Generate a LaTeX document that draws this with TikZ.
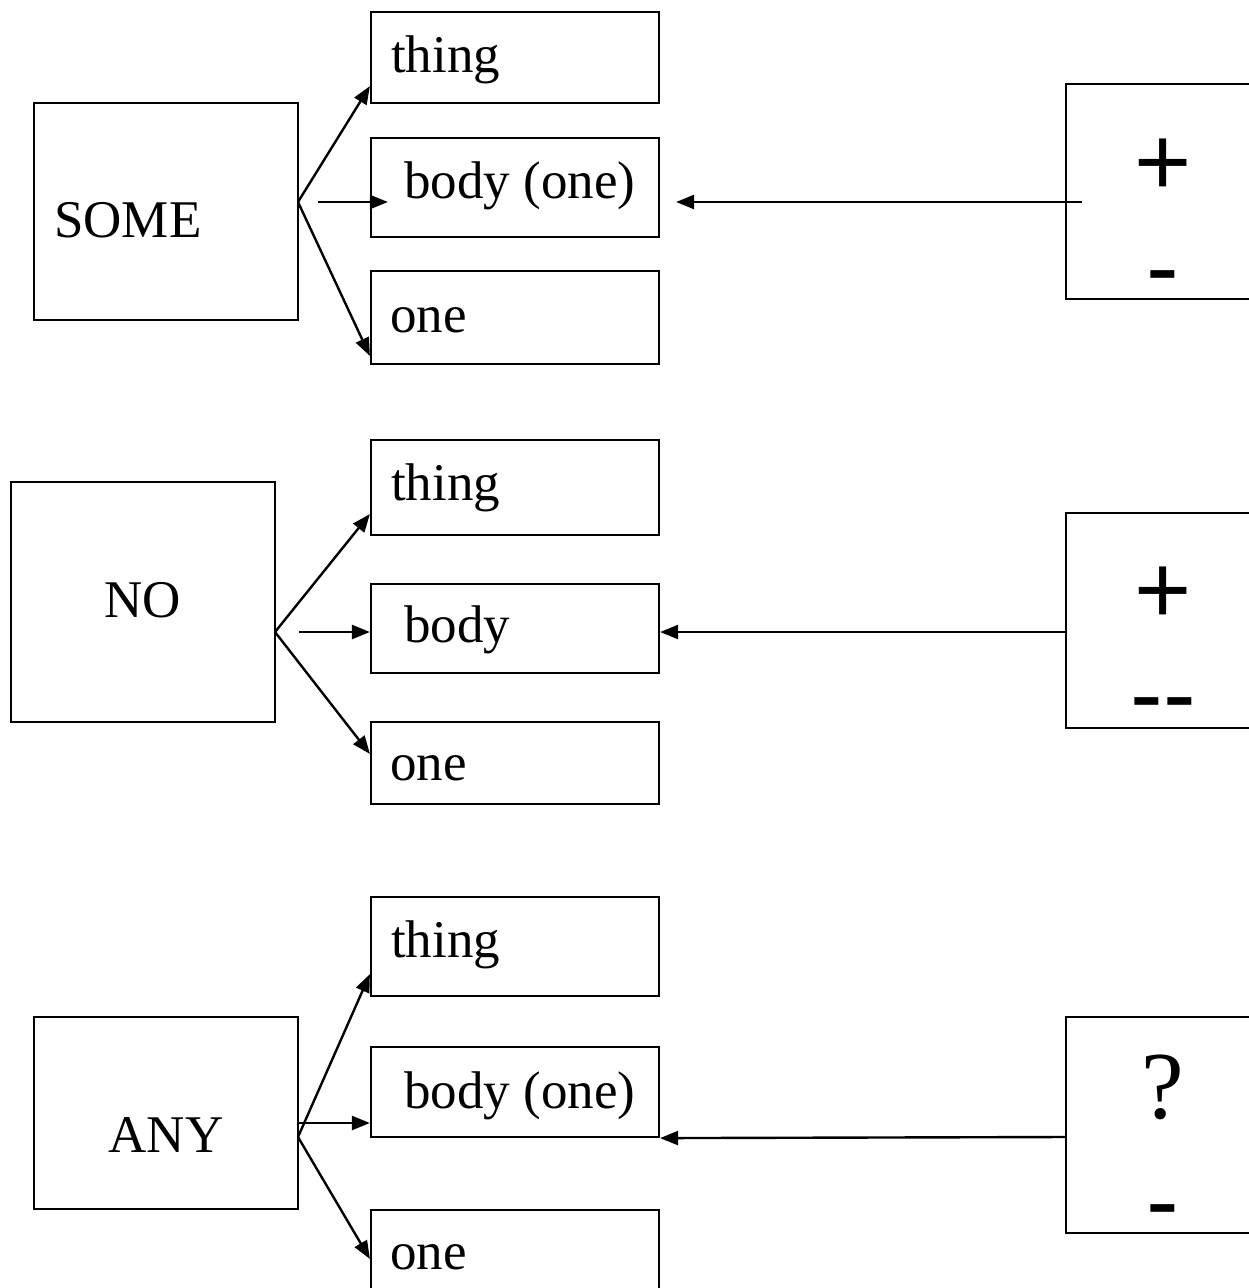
\documentclass[tikz,border=0pt]{standalone}
\usepackage{fontspec}
\setmainfont{Liberation Serif}
\newfontfamily\signfont{Liberation Sans}
\usetikzlibrary{arrows.meta}
\tikzset{frame/.style={draw=black, line width=2.2pt, inner sep=0pt},
    word/.style={font=\fontsize{53}{60}\selectfont, inner sep=0pt},
    sign/.style={font=\signfont\fontsize{98}{100}\selectfont, inner sep=0pt, anchor=base},
    arr/.style={line width=2.4pt, -{Triangle[length=18pt,width=14pt]}}}

\begin{document}
\begin{tikzpicture}[x=1pt, y=-1pt]
    \useasboundingbox (0,0) rectangle (1249,1288);
    % determiners
    \node[frame, minimum width=264, minimum height=217] (some) at (166,211.5) {};
    \node[frame, minimum width=264, minimum height=240] (no)   at (143,602)   {};
    \node[frame, minimum width=264, minimum height=192] (any)  at (166,1113)  {};
    \node[word, anchor=base west] (some-t) at (54,237)  {SOME};
    \node[word, anchor=base]      (no-t)   at (143,617) {NO};
    \node[word, anchor=base]      (any-t)  at (166,1152) {ANY};
    % endings
    \node[frame, minimum width=288, minimum height=91] (thing1) at (515,57.5)  {};
    \node[frame, minimum width=288, minimum height=99] (body1)  at (515,187.5) {};
    \node[frame, minimum width=288, minimum height=93] (one1)   at (515,317.5) {};
    \node[frame, minimum width=288, minimum height=95] (thing2) at (515,487.5) {};
    \node[frame, minimum width=288, minimum height=89] (body2)  at (515,628.5) {};
    \node[frame, minimum width=288, minimum height=82] (one2)   at (515,763)   {};
    \node[frame, minimum width=288, minimum height=99] (thing3) at (515,946.5) {};
    \node[frame, minimum width=288, minimum height=90] (body3)  at (515,1092)  {};
    \node[frame, minimum width=288, minimum height=100] (one3)  at (515,1260)  {};
    \node[word, anchor=base west] (thing1-t) at (391,72)   {thing};
    \node[word, anchor=base west] (body1-t)  at (404,198)  {body (one)};
    \node[word, anchor=base west] (one1-t)   at (390,332)  {one};
    \node[word, anchor=base west] (thing2-t) at (391,500)  {thing};
    \node[word, anchor=base west] (body2-t)  at (404,642)  {body};
    \node[word, anchor=base west] (one2-t)   at (390,780)  {one};
    \node[word, anchor=base west] (thing3-t) at (391,957)  {thing};
    \node[word, anchor=base west] (body3-t)  at (404,1108) {body (one)};
    \node[word, anchor=base west] (one3-t)   at (390,1269) {one};
    % polarity boxes
    \node[frame, minimum width=234, minimum height=215] (sign1) at (1183,191.5) {};
    \node[frame, minimum width=234, minimum height=215] (sign2) at (1183,620.5) {};
    \node[frame, minimum width=234, minimum height=216] (sign3) at (1183,1125)  {};
    \node[sign] (plus1)  at (1163,195)  {+};
    \node[sign] (minus1) at (1163,300)  {-};
    \node[sign] (plus2)  at (1163,623)  {+};
    \node[sign] (minus2) at (1163,727)  {-\kern0pt-};
    \node[sign, font=\fontsize{96}{100}\selectfont] (query3) at (1163,1118) {?};
    \node[sign] (minus3) at (1163,1234) {-};
    % forks
    \coordinate (fork1) at (298,202);
    \coordinate (fork2) at (275,632);
    \coordinate (fork3) at (298,1137);
    \draw[arr] (fork1) -- ([yshift=18pt]thing1.south west);
    \draw[arr] ([xshift=20pt]fork1) -- ([xshift=18pt]body1.west |- fork1);
    \draw[arr] (fork1) -- ([yshift=-86pt]one1.north west);
    \draw[arr] ([xshift=17pt]sign1.west |- fork1) -- ([xshift=16pt]body1.east |- fork1);
    \draw[arr] (fork2) -- ([yshift=22pt]thing2.south west);
    \draw[arr] ([xshift=24pt]fork2) -- (body2.west |- fork2);
    \draw[arr] (fork2) -- ([yshift=-33pt]one2.north west);
    \draw[arr] (sign2.west |- fork2) -- (body2.east |- fork2);
    \draw[arr] (fork3) -- ([yshift=23pt]thing3.south west);
    \draw[arr] ([yshift=14pt]fork3) -- ([yshift=-31pt]body3.west);
    \draw[arr] (fork3) -- ([yshift=-50pt]one3.north west);
    \draw[arr] (sign3.west |- fork3) -- (body3.south east);
\end{tikzpicture}
\end{document}
